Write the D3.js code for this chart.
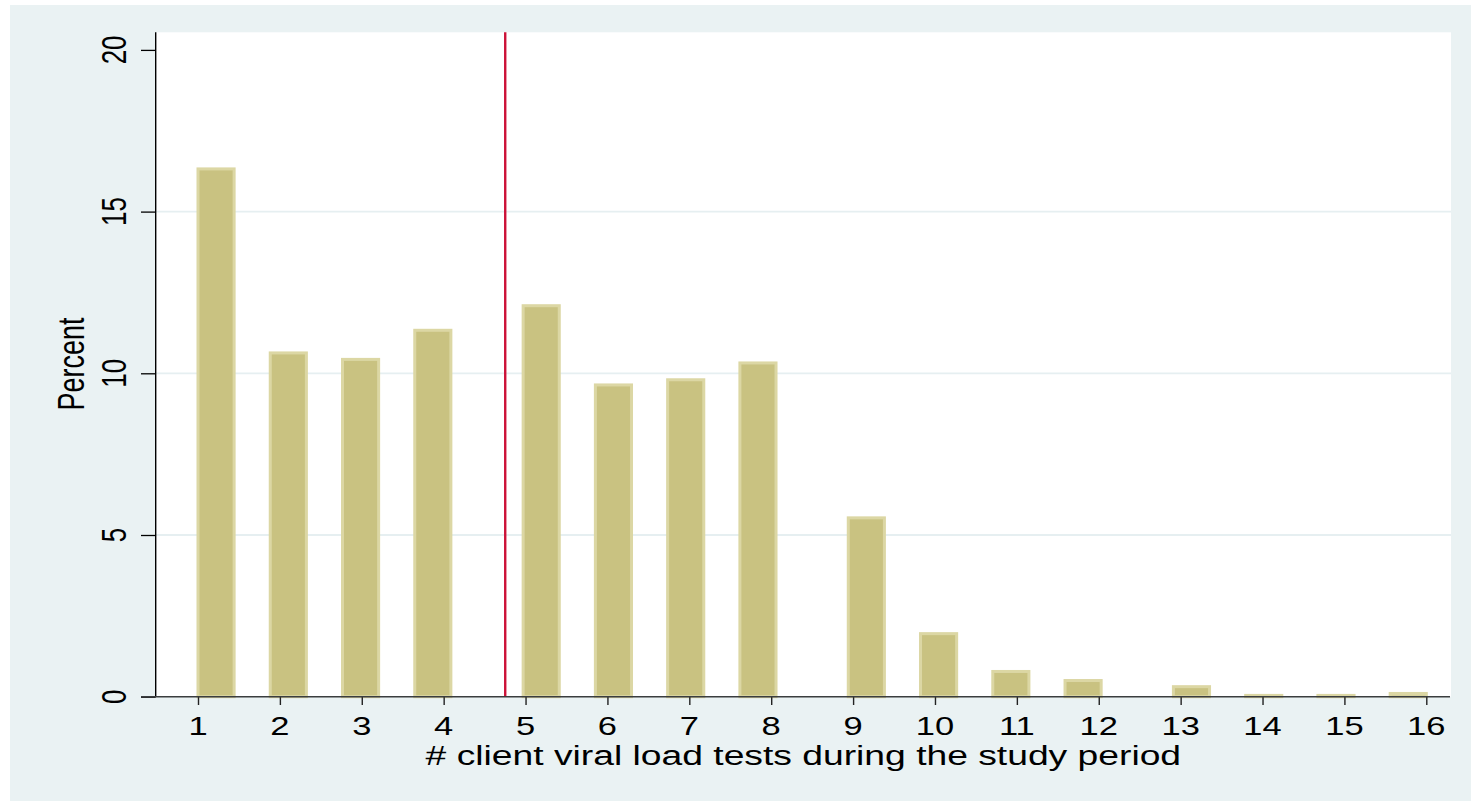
<!DOCTYPE html>
<html>
<head>
<meta charset="utf-8">
<script src="https://cdn.jsdelivr.net/npm/d3@7"></script>
<style>
  html, body { margin: 0; padding: 0; background: #ffffff; }
  svg { display: block; }
  text { font-family: "Liberation Sans", Arial, Helvetica, sans-serif; fill: #000; }
</style>
</head>
<body>
<svg id="chart" width="1471" height="801"></svg>
<script>
// Number of viral load tests per client and the share of clients (percent)
const tests = [1, 2, 3, 4, 5, 6, 7, 8, 9, 10, 11, 12, 13, 14, 15, 16];
const percent = [16.32, 10.63, 10.43, 11.33, 12.09, 9.64, 9.80, 10.32, 5.53, 1.95, 0.78, 0.50, 0.31, 0.04, 0.04, 0.10];
const xTicks = [1, 2, 3, 4, 5, 6, 7, 8, 9, 10, 11, 12, 13, 14, 15, 16];
const yTicks = [0, 5, 10, 15, 20];
const binCount = 34;

const svg = d3.select("#chart");
const W = 1471, H = 801;

// graph region
svg.append("rect").attr("x", 10).attr("y", 5).attr("width", W - 10).attr("height", H - 5)
  .attr("fill", "#eaf2f3");

// plot region
const plot = { left: 155.7, right: 1451, top: 32.3, bottom: 696.7 };
svg.append("rect").attr("x", plot.left).attr("y", plot.top)
  .attr("width", plot.right - plot.left).attr("height", plot.bottom - plot.top)
  .attr("fill", "#ffffff");

const x = d3.scaleLinear().domain([1, 16]).range([198, 1426.3]);
const y = d3.scaleLinear().domain([0, 20]).range([plot.bottom, 49.9]);

// horizontal stretch applied to the lettering
const sx = 1.38;

// grid lines
svg.append("g").selectAll("line").data(yTicks.filter(t => t > 0 && t < 20)).join("line")
  .attr("x1", plot.left).attr("x2", plot.right)
  .attr("y1", d => y(d)).attr("y2", d => y(d))
  .attr("stroke", "#e6eff1").attr("stroke-width", 1.8);

// histogram bars: equal-width bins spanning 1..16
const binW = (16 - 1) / binCount;
const binOf = v => Math.min(binCount - 1, Math.floor((v - 1) / binW + 1e-9));
const bars = tests.map((t, i) => ({ t, p: percent[i], b: binOf(t) }));

svg.append("g").selectAll("rect").data(bars).join("rect")
  .attr("x", d => x(1 + d.b * binW))
  .attr("width", d => x(1 + (d.b + 1) * binW) - x(1 + d.b * binW))
  .attr("y", d => y(d.p))
  .attr("height", d => y(0) - y(d.p))
  .attr("fill", "#c9c281")
  .attr("stroke", "#dcd7a4")
  .attr("stroke-width", 3);

// mean marker
const mean = d3.sum(bars, d => d.t * d.p) / d3.sum(bars, d => d.p);
svg.append("line")
  .attr("x1", x(mean)).attr("x2", x(mean))
  .attr("y1", plot.top).attr("y2", plot.bottom)
  .attr("stroke", "#cc1238").attr("stroke-width", 2.4);

// y axis
const yAxis = svg.append("g").attr("transform", `translate(${plot.left},0)`)
  .call(d3.axisLeft(y).tickValues(yTicks).tickSize(14.7).tickFormat(""));
yAxis.select(".domain").remove();
yAxis.selectAll(".tick line").attr("stroke", "#000").attr("stroke-width", 1.3);
yAxis.append("line").attr("x1", 0).attr("x2", 0).attr("y1", plot.top).attr("y2", plot.bottom)
  .attr("stroke", "#000").attr("stroke-width", 1.4);

svg.append("g").selectAll("text").data(yTicks).join("text")
  .attr("transform", d => `translate(125.7,${y(d)}) scale(${sx},1) rotate(-90)`)
  .attr("text-anchor", "middle")
  .style("font-size", "26px")
  .text(d => d);

// x axis
const xAxis = svg.append("g").attr("transform", `translate(0,${plot.bottom})`)
  .call(d3.axisBottom(x).tickValues(xTicks).tickSize(8.3).tickFormat(""));
xAxis.select(".domain").remove();
xAxis.selectAll(".tick line").attr("stroke", "#222").attr("stroke-width", 1.4);
xAxis.append("line").attr("x1", 141).attr("x2", 1450).attr("y1", 0).attr("y2", 0)
  .attr("stroke", "#3a3d3f").attr("stroke-width", 1.6);

svg.append("g").selectAll("text").data(xTicks).join("text")
  .attr("transform", d => `translate(${x(d)},735) scale(${sx},1)`)
  .attr("text-anchor", "middle")
  .style("font-size", "25px")
  .text(d => d);

// axis titles
svg.append("text")
  .attr("transform", `translate(${(plot.left + plot.right) / 2},765.3) scale(${sx},1)`)
  .attr("text-anchor", "middle")
  .style("font-size", "27px")
  .text("# client viral load tests during the study period");

svg.append("text")
  .attr("transform", `translate(84,364) scale(${sx},1) rotate(-90)`)
  .attr("text-anchor", "middle")
  .style("font-size", "27px")
  .text("Percent");
</script>
</body>
</html>
